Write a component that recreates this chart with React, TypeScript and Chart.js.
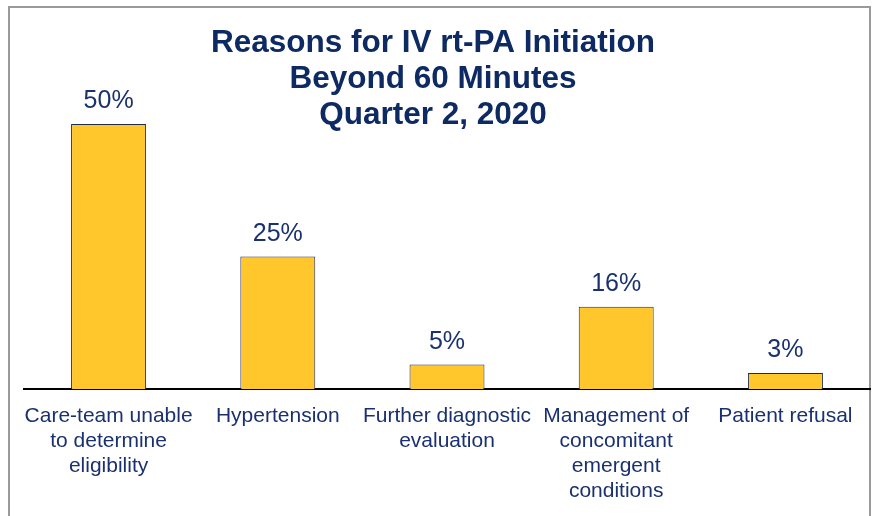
import React, { useEffect, useRef } from "react";
import { Chart, registerables } from "chart.js";

Chart.register(...registerables);

const titleLines = ["Reasons for IV rt-PA Initiation", "Beyond 60 Minutes", "Quarter 2, 2020"];
const categories = [
  ["Care-team unable", "to determine", "eligibility"],
  ["Hypertension"],
  ["Further diagnostic", "evaluation"],
  ["Management of", "concomitant", "emergent", "conditions"],
  ["Patient refusal"],
];
const values = [50, 25, 4.6, 15.5, 3];
const valueLabels = ["50%", "25%", "5%", "16%", "3%"];

const FONT = "Arial, 'Liberation Sans', Helvetica, sans-serif";
const NAVY = "#0E2A63";
const LABEL_NAVY = "#1A3170";

export default function App() {
  const ref = useRef<HTMLCanvasElement>(null);

  useEffect(() => {
    if (!ref.current) return;
    const frame = {
      id: "frame",
      beforeDraw(chart: any) {
        const ctx = chart.ctx;
        ctx.save();
        ctx.fillStyle = "#ffffff";
        ctx.fillRect(0, 0, chart.width, chart.height);
        ctx.strokeStyle = "#9a9a9a";
        ctx.lineWidth = 2;
        ctx.strokeRect(9, 7, 861, 530);
        ctx.restore();
      },
    };
    const titlePlugin = {
      id: "titleDraw",
      afterDraw(chart: any) {
        const ctx = chart.ctx;
        ctx.save();
        ctx.fillStyle = NAVY;
        ctx.font = `bold 31.5px ${FONT}`;
        ctx.textAlign = "center";
        ctx.textBaseline = "alphabetic";
        const cx = 433;
        titleLines.forEach((t, i) => ctx.fillText(t, cx, 52 + i * 36));
        ctx.restore();
      },
    };
    const dataLabels = {
      id: "dataLabels",
      afterDatasetsDraw(chart: any) {
        const ctx = chart.ctx;
        const meta = chart.getDatasetMeta(0);
        ctx.save();
        ctx.fillStyle = LABEL_NAVY;
        ctx.font = `25px ${FONT}`;
        ctx.textAlign = "center";
        ctx.textBaseline = "alphabetic";
        meta.data.forEach((el: any, i: number) => {
          ctx.fillText(valueLabels[i], el.x, el.y - 16);
        });
        ctx.restore();
      },
    };
    const chart = new Chart(ref.current, {
      type: "bar",
      data: {
        labels: categories,
        datasets: [
          {
            data: values,
            backgroundColor: "#FFC72C",
            borderColor: "#1F2A55",
            borderWidth: 1,
            categoryPercentage: 1,
            barPercentage: 0.443,
          },
        ],
      },
      options: {
        responsive: false,
        animation: false,
        devicePixelRatio: 1,
        layout: { padding: { left: 24, right: 7, top: 71, bottom: 0 } },
        plugins: {
          legend: { display: false },
          title: { display: false },
          tooltip: { enabled: false },
        },
        scales: {
          x: {
            grid: { display: false, drawTicks: false },
            border: { display: true, color: "#000000", width: 2 },
            ticks: {
              color: LABEL_NAVY,
              font: { family: FONT, size: 21, lineHeight: "25px" },
              padding: 15,
              maxRotation: 0,
              minRotation: 0,
              autoSkip: false,
            },
            afterFit(scale: any) {
              scale.height = 127;
            },
          },
          y: {
            display: false,
            min: 0,
            max: 60,
          },
        },
      },
      plugins: [frame, titlePlugin, dataLabels],
    });
    return () => chart.destroy();
  }, []);

  return (
    <canvas
      ref={ref}
      width={877}
      height={516}
      style={{ position: "absolute", left: 0, top: 0, display: "block", width: 877, height: 516 }}
    />
  );
}
